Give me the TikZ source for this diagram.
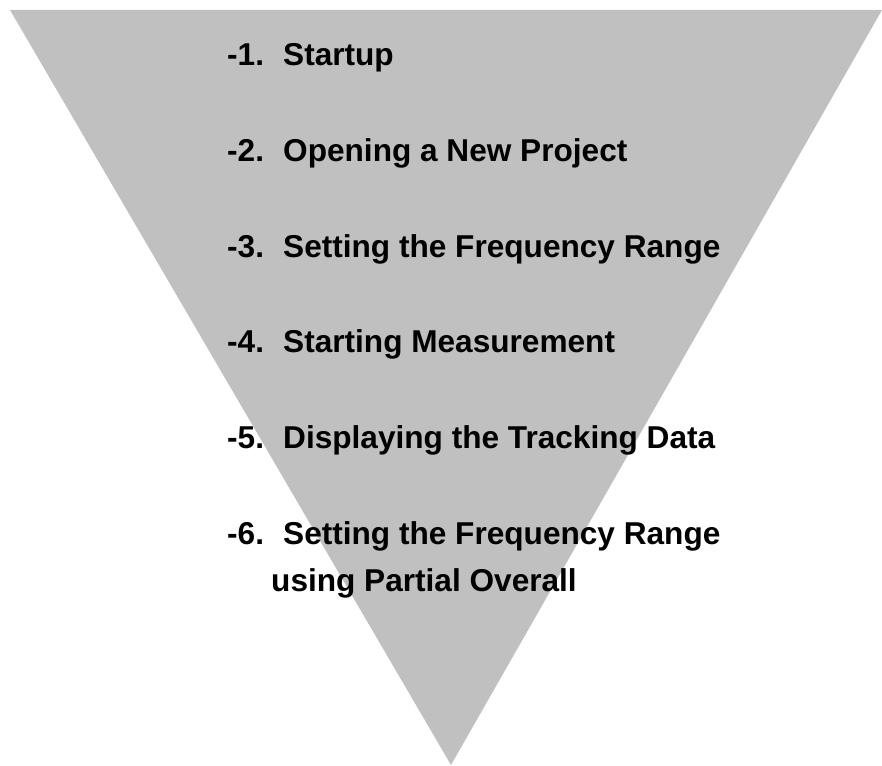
\documentclass[tikz,border=0pt]{standalone}
\usepackage{fontspec}
\setmainfont{Liberation Sans}
\definecolor{funnelgray}{HTML}{C0C0C0}
\newcommand{\stepno}[1]{\makebox[56pt][l]{#1}}
\begin{document}
\begin{tikzpicture}[x=1pt,y=-1pt]
      \useasboundingbox (0,0) rectangle (882,765);
      \coordinate (tl) at (10,10);
      \coordinate (tr) at (882,10);
      \coordinate (tip) at (451,765);
      \fill[funnelgray] (tl) -- (tr) -- (tip) -- cycle;
      \begin{scope}[every node/.style={anchor=base west,inner sep=0pt,
          font=\fontsize{31.6}{38}\selectfont\bfseries}]
        \node (s1) at (227,66) {\stepno{-1.}Startup};
        \node (s2) at (227,161.6) {\stepno{-2.}Opening a New Project};
        \node (s3) at (227,257.2) {\stepno{-3.}Setting the Frequency Range};
        \node (s4) at (227,352.8) {\stepno{-4.}Starting Measurement};
        \node (s5) at (227,448.4) {\stepno{-5.}Displaying the Tracking Data};
        \node (s6) at (227,544) {\stepno{-6.}Setting the Frequency Range};
        \node (s6b) at (271,591) {using Partial Overall};
      \end{scope}
    \end{tikzpicture}
\end{document}
